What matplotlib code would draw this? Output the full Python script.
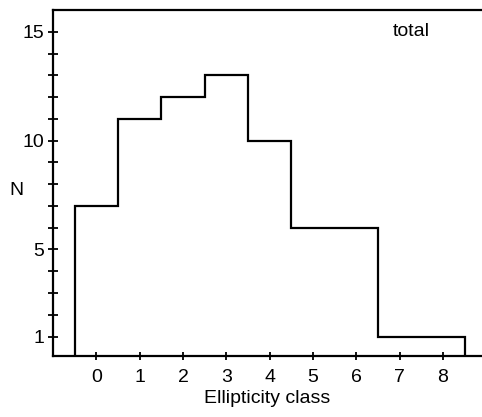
import matplotlib

matplotlib.use("Agg")
import matplotlib.pyplot as plt
import numpy as np

# counts per ellipticity class
classes = [0, 1, 2, 3, 4, 5, 6, 7, 8]
counts = [7, 11, 12, 13, 10, 6, 6, 1, 1]
y_labels = [1, 5, 10, 15]

plt.rcParams["font.family"] = ["Liberation Sans", "DejaVu Sans"]

fig = plt.figure(figsize=(4.82, 4.17), dpi=100)
ax = fig.add_axes([0.11, 0.146, 0.89, 0.83])

edges = np.arange(len(classes) + 1) - 0.5
ax.stairs(counts, edges, baseline=0, color="black", linewidth=1.6)

ax.set_xlim(-1, 8.9)
ax.set_ylim(0.1, 16)

ax.spines["right"].set_visible(False)
for side in ("left", "top", "bottom"):
    ax.spines[side].set_linewidth(1.6)

ax.set_xticks(classes)
ax.set_yticks(y_labels)
ax.set_yticks(range(1, 16), minor=True)
ax.tick_params(axis="x", direction="inout", length=6, width=1.3,
               labelsize=14, pad=6)
ax.tick_params(axis="y", which="both", direction="inout", length=7, width=1.3,
               labelsize=14, pad=3)

ax.set_xlabel("Ellipticity class", fontsize=14, labelpad=3)
ax.set_ylabel("N", fontsize=14, rotation=0)
ax.yaxis.set_label_coords(-0.085, 0.455)

ax.text(6.85, 15, "total", fontsize=14, va="center", ha="left")

fig.savefig("out.png", dpi=100)
